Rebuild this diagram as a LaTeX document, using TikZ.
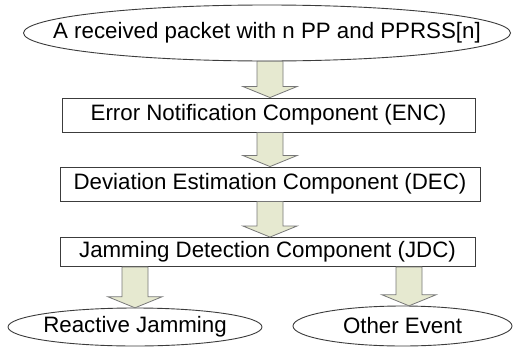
\documentclass[tikz,border=0pt]{standalone}
\usepackage{fontspec}
\setmainfont{Liberation Sans}
\usetikzlibrary{calc}

\definecolor{arrowfill}{RGB}{230,233,208}
\definecolor{arrowline}{RGB}{120,120,120}
\definecolor{frameline}{RGB}{60,60,60}

\tikzset{
  outcome/.style={rectangle, inner sep=0pt, font=\fontsize{22.3}{24}\selectfont},
  outline/.style={draw=frameline, line width=0.9pt},
  stagebox/.style={rectangle, draw=frameline, line width=0.9pt, inner sep=0pt,
    font=\fontsize{22.3}{24}\selectfont},
  blockarrow/.style={fill=arrowfill, draw=arrowline, line width=0.8pt, line join=miter}
}

% block arrow from the bottom of #1 down to the top of #2, at the x of #3
\newcommand{\flowarrow}[3]{%
  \draw[blockarrow] let \p1=(#1.south), \p2=(#2.north), \p3=(#3) in
    (\x3-13pt,\y1) -- (\x3+13pt,\y1) -- (\x3+13pt,\y2+11pt) -- (\x3+27pt,\y2+11pt)
    -- (\x3,\y2) -- (\x3-27pt,\y2+11pt) -- (\x3-13pt,\y2+11pt) -- cycle;}

\begin{document}
\begin{tikzpicture}[x=1pt,y=-1pt]
  \useasboundingbox[fill=white] (0,0) rectangle (516,348);

  % start and end states: text nodes sized like their ellipses
  \node[outcome, minimum width=487pt, minimum height=56pt] (pkt) at (267,33)
    {A received packet with n PP and PPRSS[n]};
  \node[outcome, minimum width=254pt, minimum height=38pt] (rj) at (135,327)
    {Reactive Jamming};
  \node[outcome, minimum width=219pt, minimum height=40pt] (oe) at (402.5,326)
    {Other Event};
  \draw[outline] (pkt.center) ellipse [x radius=243.5pt, y radius=28pt];
  \draw[outline] (rj.center) ellipse [x radius=127pt, y radius=19pt];
  \draw[outline] (oe.center) ellipse [x radius=109.5pt, y radius=20pt];

  % processing components
  \node[stagebox, minimum width=413pt, minimum height=34pt] (enc) at (268.5,115)
    {Error Notification Component (ENC)};
  \node[stagebox, minimum width=420pt, minimum height=34pt] (dec) at (270,184)
    {Deviation Estimation Component (DEC)};
  \node[stagebox, minimum width=415pt, minimum height=29pt] (jdc) at (267.5,252)
    {Jamming Detection Component (JDC)};

  \coordinate (a1) at (270,0);
  \coordinate (a4) at (135,0);
  \coordinate (a5) at (409,0);

  \flowarrow{pkt}{enc}{a1}
  \flowarrow{enc}{dec}{a1}
  \flowarrow{dec}{jdc}{a1}
  \flowarrow{jdc}{rj}{a4}
  \flowarrow{jdc}{oe}{a5}
\end{tikzpicture}
\end{document}
